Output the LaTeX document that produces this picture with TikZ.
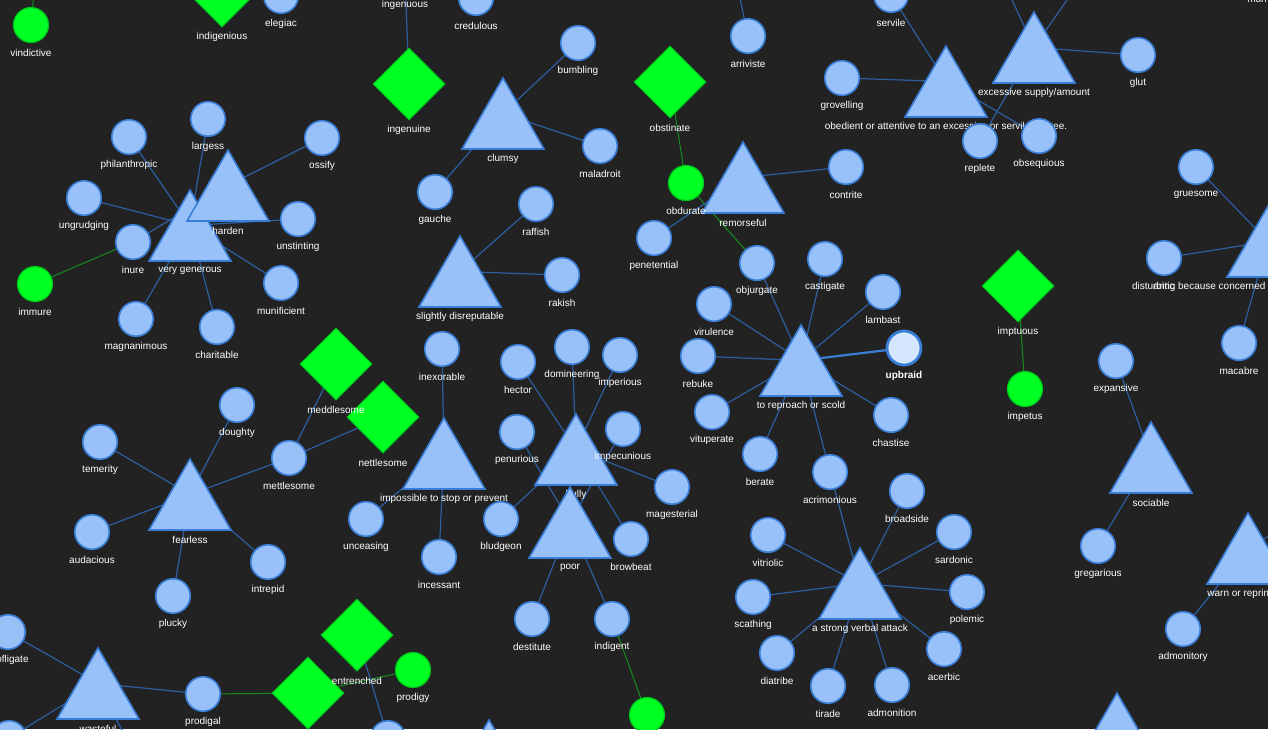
\documentclass[tikz,border=0pt]{standalone}
\usepackage{fontspec}
\setmainfont{Liberation Sans}
\usepackage{xcolor}
\usepackage{tikz}
\usetikzlibrary{shapes.geometric,backgrounds}
\definecolor{gbg}{RGB}{34,34,34}
\definecolor{wfill}{RGB}{152,193,250}
\definecolor{wedge}{RGB}{58,125,214}
\definecolor{hifill}{RGB}{214,230,252}
\definecolor{gfill}{RGB}{0,255,34}
\definecolor{gedge}{RGB}{0,196,28}
\definecolor{lnkc}{RGB}{44,94,160}
\definecolor{glnkc}{RGB}{22,140,30}
\pgfdeclarelayer{links}
\pgfsetlayers{background,links,main}
\tikzset{
  lbl/.style={text=white, font=\fontsize{10}{12}\selectfont, inner sep=0pt},
  word/.style={
    circle, draw=wedge, fill=wfill, line width=1.6pt, minimum size=34.5pt,
    inner sep=0pt, label={[lbl, yshift=-28pt]center:#1}
  },
  hiword/.style={
    circle, draw=wedge, fill=hifill, line width=2.8pt, minimum size=34pt,
    inner sep=0pt, label={[lbl, font=\fontsize{10}{12}\selectfont\bfseries, yshift=-28pt]center:#1}
  },
  gword/.style={
    circle, draw=gedge, fill=gfill, line width=1.2pt, minimum size=35pt,
    inner sep=0pt, label={[lbl, yshift=-28pt]center:#1}
  },
  gdia/.style={
    diamond, draw=gedge, fill=gfill, line width=1pt, minimum width=72pt,
    minimum height=72pt, inner sep=0pt, label={[lbl, yshift=-45.5pt]center:#1}
  },
  mean/.style={
    rectangle, minimum width=86pt, minimum height=75pt, inner sep=0pt,
    path picture={
      \filldraw[draw=wedge, fill=wfill, line width=1.6pt, line join=miter]
        ([yshift=-2pt]path picture bounding box.north)
        -- ([xshift=2pt,yshift=2pt]path picture bounding box.south west)
        -- ([xshift=-2pt,yshift=2pt]path picture bounding box.south east) -- cycle;
    },
    label={[lbl, yshift=-45.5pt]center:#1}
  },
  lnk/.style={draw=lnkc, line width=1.2pt},
  glnk/.style={draw=glnkc, line width=1pt},
  hlnk/.style={draw=wedge, line width=2.2pt}
}
\begin{document}
\begin{tikzpicture}[x=1pt,y=-1pt]
  \useasboundingbox (0,0) rectangle (1268,729);
  \begin{scope}[on background layer]
    \fill[gbg] (0,0) rectangle (1268,729);
  \end{scope}
  \clip (0,0) rectangle (1268,729);

  % Top edge, partly cut off
  \node[gword=vindictive] (vind) at (31,25) {};
  \node[gdia=indigenious] (indig) at (222,-9) {};
  \node[word=elegiac] (eleg) at (281,-4) {};
  \node[word=ingenuous] (ingen) at (405,-23) {};
  \node[word=credulous] (cred) at (476,-2) {};
  \node[gdia=ingenuine] (ingnn) at (409,84) {};
  \coordinate (vindup) at (36,-30);

  % Very generous and harden
  \node[word=philanthropic] (phil) at (129,137) {};
  \node[word=largess] (larg) at (208,119) {};
  \node[word=ossify] (ossi) at (322,138) {};
  \node[word=ungrudging] (ungr) at (84,198) {};
  \node[word=unstinting] (unst) at (298,219) {};
  \node[word=inure] (inur) at (133,242) {};
  \node[gword=immure] (immu) at (35,284) {};
  \node[word=munificient] (muni) at (281,283) {};
  \node[word=magnanimous] (magn) at (136,319) {};
  \node[word=charitable] (char) at (217,327) {};
  \node[mean=very generous] (gen) at (190,225.5) {};
  \node[mean=harden] (hard) at (228,185.5) {};

  % Clumsy and slightly disreputable
  \node[word=bumbling] (bumb) at (578,43) {};
  \node[word=maladroit] (mala) at (600,146) {};
  \node[word=gauche] (gauc) at (435,192) {};
  \node[mean=clumsy] (clum) at (503,113.5) {};
  \node[word=raffish] (raff) at (536,204) {};
  \node[word=rakish] (raki) at (562,275) {};
  \node[mean=slightly disreputable] (disr) at (460,271.5) {};

  % Remorseful
  \node[gdia=obstinate] (obst) at (670,82) {};
  \node[word=arriviste] (arri) at (748,36) {};
  \node[word=contrite] (cont) at (846,167) {};
  \node[word=penetential] (pene) at (654,238) {};
  \node[mean=remorseful] (remo) at (743,177.5) {};
  \node[gword=obdurate] (obdu) at (686,183) {};
  \coordinate (arriup) at (735,-25);

  % To reproach or scold
  \node[word=objurgate] (obju) at (757,263) {};
  \node[word=castigate] (cast) at (825,259) {};
  \node[word=lambast] (lamb) at (883,292) {};
  \node[hiword=upbraid] (upbr) at (904,348) {};
  \node[word=chastise] (chas) at (891,415) {};
  \node[word=virulence] (viru) at (714,304) {};
  \node[word=rebuke] (rebu) at (698,356) {};
  \node[word=vituperate] (vitu) at (712,412) {};
  \node[word=berate] (bera) at (760,454) {};
  \node[word=acrimonious] (acri) at (830,472) {};
  \node[mean=to reproach or scold] (scold) at (801,360.5) {};

  % A strong verbal attack
  \node[word=broadside] (broa) at (907,491) {};
  \node[word=sardonic] (sard) at (954,532) {};
  \node[word=polemic] (pole) at (967,592) {};
  \node[word=acerbic] (acer) at (944,649) {};
  \node[word=admonition] (admn) at (892,685) {};
  \node[word=tirade] (tira) at (828,686) {};
  \node[word=diatribe] (diat) at (777,653) {};
  \node[word=scathing] (scat) at (753,597) {};
  \node[word=vitriolic] (vitr) at (768,535) {};
  \node[mean=a strong verbal attack] (attk) at (860,583.5) {};

  % Obedient and excessive
  \node[word=servile] (serv) at (891,-5) {};
  \node[word=grovelling] (grov) at (842,78) {};
  \node[mean=obedient or attentive to an excessive or servile degree.] (obed) at (946,81.5) {};
  \node[mean=excessive supply/amount] (exce) at (1034,47.5) {};
  \node[word=glut] (glut) at (1138,55) {};
  \node[word=replete] (repl) at (980,141) {};
  \node[word=obsequious] (obse) at (1039,136) {};
  \node[word=mun] (munc) at (1257,-28) {};
  \coordinate (exup) at (1000,-26);
  \coordinate (exupr) at (1085,-26);

  % Right column
  \node[word=gruesome] (grue) at (1196,167) {};
  \node[word=antic] (anti) at (1164,258) {};
  \node[word=macabre] (maca) at (1239,343) {};
  \node[mean={}, label={[lbl, xshift=-59pt, yshift=-45.5pt]center:disturbing because concerned with}] (dist) at (1268,241.5) {};
  \node[gdia=imptuous] (imptu) at (1018,286) {};
  \node[gword=impetus] (impe) at (1025,389) {};
  \node[word=expansive] (expa) at (1116,361) {};
  \node[word=gregarious] (greg) at (1098,546) {};
  \node[mean=sociable] (soci) at (1151,457.5) {};
  \node[word=admonitory] (admy) at (1183,629) {};
  \node[mean=warn or reprimand] (warn) at (1248,548.5) {};
  \node[mean={}] (lowr) at (1117,728.5) {};
  \coordinate (warnup) at (1305,514);

  % Fearless
  \node[word=temerity] (teme) at (100,442) {};
  \node[word=doughty] (doug) at (237,405) {};
  \node[word=audacious] (auda) at (92,532) {};
  \node[word=intrepid] (intr) at (268,562) {};
  \node[word=plucky] (pluc) at (173,596) {};
  \node[mean=fearless] (fear) at (190,494.5) {};
  \node[gdia=nettlesome] (nett) at (383,417) {};
  \node[gdia=meddlesome] (medd) at (336,364) {};
  \node[word=mettlesome] (mett) at (289,458) {};

  % Wasteful
  \node[word=profligate] (prof) at (8,632) {};
  \node[word=prodigal] (prdg) at (203,694) {};
  \node[mean=wasteful] (wast) at (98,683.5) {};
  \node[word={}] (lowl) at (9,738) {};
  \node[gdia={}] (lowd) at (308,693) {};
  \node[gdia=entrenched] (entr) at (357,635) {};
  \node[gword=prodigy] (prdy) at (413,670) {};
  \node[word={}] (lowm) at (388,738) {};
  \coordinate (wastdn) at (128,742);

  % Impossible to stop or prevent
  \node[word=inexorable] (inex) at (442,349) {};
  \node[word=unceasing] (unce) at (366,519) {};
  \node[word=incessant] (ince) at (439,557) {};
  \node[mean=impossible to stop or prevent] (imps) at (444,453.5) {};

  % Bully and poor
  \node[word=hector] (hect) at (518,362) {};
  \node[word=domineering] (domi) at (572,347) {};
  \node[word=imperious] (impr) at (620,355) {};
  \node[word=penurious] (penu) at (517,432) {};
  \node[word=magesterial] (mage) at (672,487) {};
  \node[word=bludgeon] (blud) at (501,519) {};
  \node[word=browbeat] (brow) at (631,539) {};
  \node[mean=bully] (bull) at (576,449.5) {};
  \node[word=impecunious] (impc) at (623,429) {};
  \node[mean=poor] (poor) at (570,522.5) {};
  \node[word=destitute] (dest) at (532,619) {};
  \node[word=indigent] (indi) at (612,619) {};
  \node[gword={}] (lowg) at (647,715) {};
  \node[mean={}] (lowt) at (489,755.5) {};

  \begin{pgfonlayer}{links}
    \draw[glnk] (vind.center) -- (vindup);
    \draw[lnk] (ingen.center) -- (ingnn.center);

    \draw[lnk] (gen.center) -- (phil.center);
    \draw[lnk] (gen.center) -- (larg.center);
    \draw[lnk] (gen.center) -- (ungr.center);
    \draw[lnk] (gen.center) -- (unst.center);
    \draw[lnk] (gen.center) -- (muni.center);
    \draw[lnk] (gen.center) -- (magn.center);
    \draw[lnk] (gen.center) -- (char.center);
    \draw[lnk] (hard.center) -- (ossi.center);
    \draw[lnk] (hard.center) -- (inur.center);
    \draw[glnk] (immu.center) -- (inur.center);

    \draw[lnk] (clum.center) -- (bumb.center);
    \draw[lnk] (clum.center) -- (mala.center);
    \draw[lnk] (clum.center) -- (gauc.center);
    \draw[lnk] (disr.center) -- (raff.center);
    \draw[lnk] (disr.center) -- (raki.center);

    \draw[glnk] (obst.center) -- (obdu.center);
    \draw[glnk] (obdu.center) -- (obju.center);
    \draw[lnk] (remo.center) -- (cont.center);
    \draw[lnk] (remo.center) -- (pene.center);
    \draw[lnk] (arri.center) -- (arriup);

    \draw[lnk] (scold.center) -- (obju.center);
    \draw[lnk] (scold.center) -- (cast.center);
    \draw[lnk] (scold.center) -- (lamb.center);
    \draw[hlnk] (scold.center) -- (upbr.center);
    \draw[lnk] (scold.center) -- (chas.center);
    \draw[lnk] (scold.center) -- (viru.center);
    \draw[lnk] (scold.center) -- (rebu.center);
    \draw[lnk] (scold.center) -- (vitu.center);
    \draw[lnk] (scold.center) -- (bera.center);
    \draw[lnk] (scold.center) -- (acri.center);

    \draw[lnk] (attk.center) -- (acri.center);
    \draw[lnk] (attk.center) -- (broa.center);
    \draw[lnk] (attk.center) -- (sard.center);
    \draw[lnk] (attk.center) -- (pole.center);
    \draw[lnk] (attk.center) -- (acer.center);
    \draw[lnk] (attk.center) -- (admn.center);
    \draw[lnk] (attk.center) -- (tira.center);
    \draw[lnk] (attk.center) -- (diat.center);
    \draw[lnk] (attk.center) -- (scat.center);
    \draw[lnk] (attk.center) -- (vitr.center);

    \draw[lnk] (obed.center) -- (serv.center);
    \draw[lnk] (obed.center) -- (grov.center);
    \draw[lnk] (obed.center) -- (obse.center);
    \draw[lnk] (exce.center) -- (repl.center);
    \draw[lnk] (exce.center) -- (glut.center);
    \draw[lnk] (exce.center) -- (exup);
    \draw[lnk] (exce.center) -- (exupr);

    \draw[lnk] (dist.center) -- (grue.center);
    \draw[lnk] (dist.center) -- (anti.center);
    \draw[lnk] (dist.center) -- (maca.center);
    \draw[glnk] (imptu.center) -- (impe.center);
    \draw[lnk] (soci.center) -- (expa.center);
    \draw[lnk] (soci.center) -- (greg.center);
    \draw[lnk] (warn.center) -- (admy.center);
    \draw[lnk] (warn.center) -- (warnup);

    \draw[lnk] (fear.center) -- (teme.center);
    \draw[lnk] (fear.center) -- (doug.center);
    \draw[lnk] (fear.center) -- (mett.center);
    \draw[lnk] (fear.center) -- (auda.center);
    \draw[lnk] (fear.center) -- (intr.center);
    \draw[lnk] (fear.center) -- (pluc.center);
    \draw[lnk] (mett.center) -- (medd.center);
    \draw[lnk] (mett.center) -- (nett.center);

    \draw[lnk] (wast.center) -- (prof.center);
    \draw[lnk] (wast.center) -- (prdg.center);
    \draw[lnk] (wast.center) -- (lowl.center);
    \draw[lnk] (wast.center) -- (wastdn);
    \draw[glnk] (prdg.center) -- (lowd.center);
    \draw[glnk] (lowd.center) -- (prdy.center);
    \draw[lnk] (entr.center) -- (lowm.center);

    \draw[lnk] (imps.center) -- (inex.center);
    \draw[lnk] (imps.center) -- (unce.center);
    \draw[lnk] (imps.center) -- (ince.center);

    \draw[lnk] (bull.center) -- (hect.center);
    \draw[lnk] (bull.center) -- (domi.center);
    \draw[lnk] (bull.center) -- (impr.center);
    \draw[lnk] (bull.center) -- (mage.center);
    \draw[lnk] (bull.center) -- (blud.center);
    \draw[lnk] (bull.center) -- (brow.center);
    \draw[lnk] (poor.center) -- (penu.center);
    \draw[lnk] (poor.center) -- (impc.center);
    \draw[lnk] (poor.center) -- (dest.center);
    \draw[lnk] (poor.center) -- (indi.center);
    \draw[glnk] (indi.center) -- (lowg.center);
  \end{pgfonlayer}
\end{tikzpicture}
\end{document}
